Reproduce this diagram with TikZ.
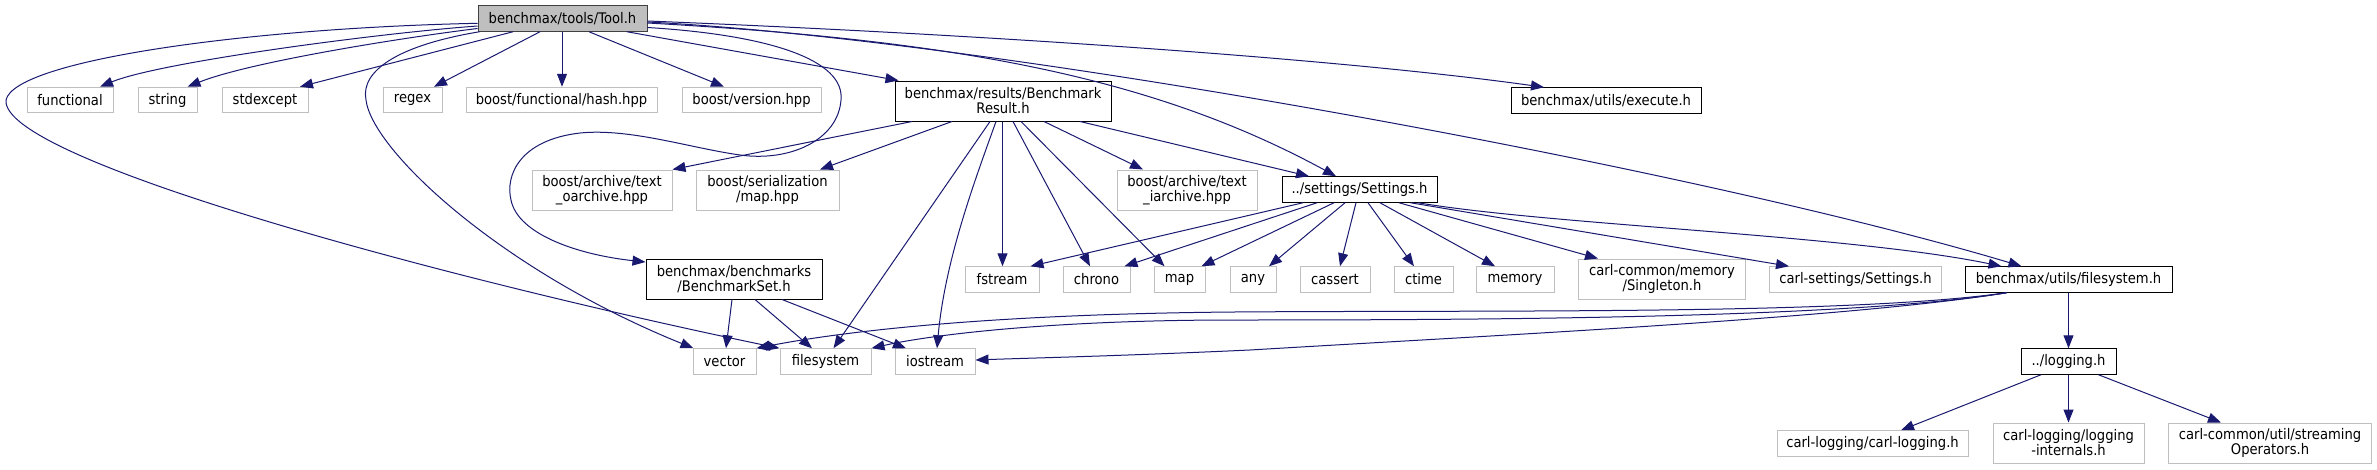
\documentclass[tikz,border=0pt]{standalone}
\usepackage{fontspec}
\setmainfont{DejaVu Sans}[FakeStretch=0.9]
\usetikzlibrary{arrows.meta}
\definecolor{edgeblue}{HTML}{191970}
\definecolor{boxgray}{HTML}{BFBFBF}
\definecolor{boxdark}{HTML}{404040}
\newcommand{\dgfont}{\fontsize{14.6}{15}\selectfont}
\begin{document}
\begin{tikzpicture}[x=1pt,y=-1pt,
  nb/.style={inner sep=0pt, align=center, font=\dgfont, line width=1pt, minimum height=25.5pt},
  ext/.style={nb, draw=boxgray, fill=white},
  int/.style={nb, draw=black, fill=white},
  two/.style={minimum height=40pt},
  e/.style={draw=edgeblue, line width=1pt, -{Triangle[length=13pt,width=10pt]}}]
\useasboundingbox (0,0) rectangle (2377,469);
% nodes
\node[int, fill=boxgray, draw=boxdark, minimum width=169pt] (tool) at (562.5,18.5) {benchmax/tools/Tool.h};
\node[ext, minimum width=86pt] (functional) at (70,100) {functional};
\node[ext, minimum width=59pt] (string) at (167.5,100) {string};
\node[ext, minimum width=86pt] (stdexcept) at (265,100) {stdexcept};
\node[ext, minimum width=59pt] (regex) at (412.5,100) {regex};
\node[ext, minimum width=191pt] (hash) at (561.5,100) {boost/functional/hash.hpp};
\node[ext, minimum width=139pt] (version) at (751.5,100) {boost/version.hpp};
\node[int, two, minimum width=216pt] (br) at (1003,101) {benchmax/results/Benchmark\\Result.h};
\node[int, minimum width=190pt] (execute) at (1606,100.5) {benchmax/utils/execute.h};
\node[ext, two, minimum width=140pt] (oarch) at (602,190) {boost/archive/text\\\_oarchive.hpp};
\node[ext, two, minimum width=143pt] (smap) at (767.5,190) {boost/serialization\\/map.hpp};
\node[ext, two, minimum width=140pt] (iarch) at (1187,190) {boost/archive/text\\\_iarchive.hpp};
\node[int, minimum width=155pt] (settings) at (1359.5,189.5) {../settings/Settings.h};
\node[int, two, minimum width=176pt] (bset) at (734,279) {benchmax/benchmarks\\/BenchmarkSet.h};
\node[ext, minimum width=74pt] (fstream) at (1002,279.5) {fstream};
\node[ext, minimum width=67pt] (chrono) at (1096.5,279.5) {chrono};
\node[ext, minimum width=51pt] (map) at (1179.5,279.5) {map};
\node[ext, minimum width=46pt] (any) at (1253,279.5) {any};
\node[ext, minimum width=70pt] (cassert) at (1335,279.5) {cassert};
\node[ext, minimum width=59pt] (ctime) at (1423.5,279.5) {ctime};
\node[ext, minimum width=78pt] (memory) at (1515,279.5) {memory};
\node[ext, two, minimum width=167pt] (singleton) at (1662,279) {carl-common/memory\\/Singleton.h};
\node[ext, minimum width=172pt] (csettings) at (1855.5,279.5) {carl-settings/Settings.h};
\node[int, minimum width=207pt] (fsh) at (2068.5,279.5) {benchmax/utils/filesystem.h};
\node[ext, minimum width=63pt] (vector) at (724.5,361.5) {vector};
\node[ext, minimum width=91pt] (filesystem) at (825.5,361.5) {filesystem};
\node[ext, minimum width=80pt] (iostream) at (935,361.5) {iostream};
\node[int, minimum width=95pt] (logging) at (2068.5,361.5) {../logging.h};
\node[ext, minimum width=191pt] (clog) at (1872.5,443.5) {carl-logging/carl-logging.h};
\node[ext, two, minimum width=151pt] (internals) at (2068.5,443) {carl-logging/logging\\-internals.h};
\node[ext, two, minimum width=203pt] (streaming) at (2270,443) {carl-common/util/streaming\\Operators.h};
% edges from Tool.h
\draw[e] ([yshift=-7.5pt]tool.west) .. controls (380,33) and (160,62) .. ([xshift=30pt]functional.north);
\draw[e] ([yshift=-10pt]tool.west) .. controls (400,38) and (250,62) .. ([xshift=20pt]string.north);
\draw[e] ([xshift=-49.5pt]tool.south) -- ([xshift=35pt]stdexcept.north);
\draw[e] ([xshift=-22.5pt]tool.south) -- ([xshift=21.5pt]regex.north);
\draw[e] ([xshift=-0.5pt]tool.south) -- ([xshift=0.5pt]hash.north);
\draw[e] ([xshift=26.5pt]tool.south) -- ([xshift=-27.5pt]version.north);
\draw[e] ([xshift=64.5pt]tool.south) -- ([xshift=-104.5pt]br.north);
\draw[e] ([yshift=-2.5pt]tool.east) .. controls (1000,35) and (1350,60) .. ([xshift=-62pt]execute.north);
\draw[e] ([yshift=-4.5pt]tool.east) .. controls (950,40) and (1150,75) .. ([xshift=-23.5pt]settings.north);
\draw[e] ([yshift=-3.5pt]tool.east) .. controls (1000,40) and (1700,170) .. ([xshift=-47pt]fsh.north);
\draw[e] ([xshift=2pt]tool.south west) .. controls (400,45) and (360,70) .. (366,100)
  .. controls (372,150) and (500,270) .. ([xshift=1pt]vector.north west);
\draw[e] ([yshift=-4.8pt]tool.west) .. controls (250,28) and (15,60) .. (6,100)
  .. controls (0,160) and (450,280) .. (filesystem.north west);
\draw[e] ([yshift=-9pt]tool.east) .. controls (770,35) and (845,60) .. (841,100)
  .. controls (838,140) and (790,162) .. (740,155)
  .. controls (690,148) and (630,128) .. (580,133)
  .. controls (520,140) and (505,175) .. (511,200)
  .. controls (518,235) and (580,255) .. ([yshift=17pt]bset.west);
% edges from BenchmarkResult.h
\draw[e] ([xshift=-91pt]br.south) -- (oarch.north east);
\draw[e] ([xshift=-51pt]br.south) -- ([xshift=52.5pt]smap.north);
\draw[e] ([xshift=-13pt]br.south) -- ([xshift=8pt]filesystem.north);
\draw[e] ([xshift=-7pt]br.south) .. controls (975,180) and (945,260) .. ([xshift=2pt]iostream.north);
\draw[e] ([xshift=-0.5pt]br.south) -- ([xshift=0.5pt]fstream.north);
\draw[e] ([xshift=10pt]br.south) -- ([xshift=-6.5pt]chrono.north);
\draw[e] ([xshift=18pt]br.south) -- ([xshift=-15pt]map.north);
\draw[e] ([xshift=41pt]br.south) -- ([xshift=-44pt]iarch.north);
\draw[e] ([xshift=77pt]br.south) -- ([xshift=-50.5pt]settings.north);
% edges from Settings.h
\draw[e] ([xshift=-56.5pt]settings.south) -- ([xshift=28.5pt]fstream.north);
\draw[e] ([xshift=-42.5pt]settings.south) -- ([xshift=28pt]chrono.north);
\draw[e] ([xshift=-25.5pt]settings.south) -- ([xshift=22pt]map.north);
\draw[e] ([xshift=-14.5pt]settings.south) -- ([xshift=16pt]any.north);
\draw[e] ([xshift=-3.5pt]settings.south) -- ([xshift=5pt]cassert.north);
\draw[e] ([xshift=8.5pt]settings.south) -- ([xshift=-9.5pt]ctime.north);
\draw[e] ([xshift=20.5pt]settings.south) -- ([xshift=-20pt]memory.north);
\draw[e] ([xshift=39.5pt]settings.south) -- ([xshift=-64pt]singleton.north);
\draw[e] ([xshift=51pt]settings.south) -- ([xshift=-66.5pt]csettings.north);
\draw[e] ([xshift=58.5pt]settings.south) .. controls (1550,225) and (1850,235) .. ([xshift=-67pt]fsh.north);
% edges from filesystem.h
\draw[e] (fsh.south) -- (logging.north);
\draw[e] ([xshift=-62pt]fsh.south) .. controls (1850,315) and (1500,310) .. (1234,312)
  .. controls (1000,314) and (850,330) .. (vector.north east);
\draw[e] ([xshift=-62pt]fsh.south) .. controls (1850,318) and (1500,320) .. (1234,320)
  .. controls (1050,320) and (930,335) .. (filesystem.north east);
\draw[e] ([xshift=-62pt]fsh.south) .. controls (1850,318) and (1500,335) .. (1250,350)
  .. controls (1120,356) and (1030,358) .. ([yshift=1.5pt]iostream.east);
% edges from BenchmarkSet.h
\draw[e] ([xshift=-2pt]bset.south) -- ([xshift=1.5pt]vector.north);
\draw[e] ([xshift=21pt]bset.south) -- ([xshift=-13.5pt]filesystem.north);
\draw[e] ([xshift=48pt]bset.south) -- ([xshift=-29pt]iostream.north);
% edges from logging.h
\draw[e] ([xshift=-27.5pt]logging.south) -- ([xshift=28.5pt]clog.north);
\draw[e] (logging.south) -- (internals.north);
\draw[e] ([xshift=30pt]logging.south) -- ([xshift=-49pt]streaming.north);
\end{tikzpicture}
\end{document}
